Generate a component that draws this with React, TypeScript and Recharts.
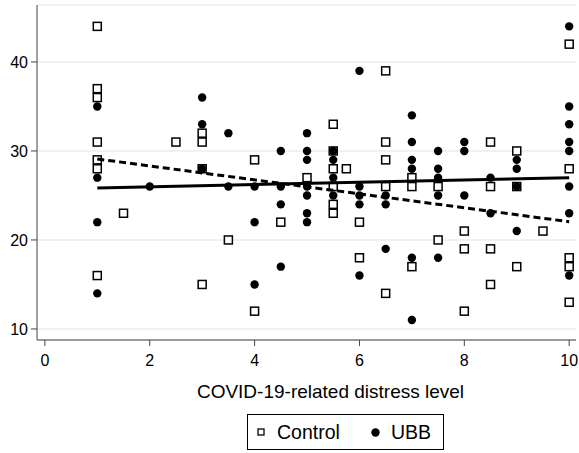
import { ComposedChart, Scatter, XAxis, YAxis, CartesianGrid, Legend } from 'recharts'

const X_TICKS = [0, 2, 4, 6, 8, 10]
const Y_TICKS = [10, 20, 30, 40]

// Control group (open squares)
const CONTROL_X = [1, 1, 1, 1, 1, 1, 1, 1.5, 2.5, 3, 3, 3, 3, 3.5, 4, 4, 4.5, 5, 5.5, 5.5, 5.5, 5.5, 5.5, 5.5, 5.75, 6, 6, 6.5, 6.5, 6.5, 6.5, 6.5, 7, 7, 7, 7.5, 7.5, 8, 8, 8, 8.5, 8.5, 8.5, 8.5, 9, 9, 9, 9.5, 10, 10, 10, 10, 10]
const CONTROL_Y = [44, 37, 36, 31, 29, 28, 16, 23, 31, 32, 31, 28, 15, 20, 29, 12, 22, 27, 33, 30, 28, 26, 24, 23, 28, 22, 18, 39, 31, 29, 26, 14, 27, 26, 17, 26, 20, 21, 19, 12, 31, 26, 19, 15, 30, 26, 17, 21, 42, 28, 18, 17, 13]

// UBB group (filled circles)
const UBB_X = [1, 1, 1, 1, 2, 3, 3, 3, 3.5, 3.5, 4, 4, 4, 4.5, 4.5, 4.5, 4.5, 5, 5, 5, 5, 5, 5, 5, 5.5, 5.5, 5.5, 5.5, 6, 6, 6, 6, 6, 6.5, 6.5, 6.5, 7, 7, 7, 7, 7, 7, 7.5, 7.5, 7.5, 7.5, 7.5, 8, 8, 8, 8.5, 8.5, 9, 9, 9, 9, 10, 10, 10, 10, 10, 10, 10, 10]
const UBB_Y = [35, 27, 22, 14, 26, 36, 33, 28, 32, 26, 26, 22, 15, 30, 26, 24, 17, 32, 30, 29, 26, 25, 23, 22, 30, 29, 27, 25, 39, 26, 25, 24, 16, 25, 24, 19, 34, 31, 29, 28, 18, 11, 30, 28, 27, 25, 18, 31, 30, 25, 27, 23, 29, 28, 26, 21, 44, 35, 33, 31, 30, 26, 23, 16]

// fitted lines, endpoints at x = 1 and x = 10
const FIT_X = [1, 10]
const CONTROL_FIT = [29.1, 22.05]
const UBB_FIT = [25.85, 27.0]

const FONT = 'Arial, "Liberation Sans", sans-serif'

const toPoints = (xs: number[], ys: number[]) => xs.map((x, i) => ({ x, y: ys[i] }))

const controlData = toPoints(CONTROL_X, CONTROL_Y)
const ubbData = toPoints(UBB_X, UBB_Y)
const controlFit = toPoints(FIT_X, CONTROL_FIT)
const ubbFit = toPoints(FIT_X, UBB_FIT)

const SquareDot = ({ cx, cy }: any) => (
	<rect x={cx - 4} y={cy - 4} width={8} height={8} fill="#fff" stroke="#000" strokeWidth={1.5} />
)

const CircleDot = ({ cx, cy }: any) => <circle cx={cx} cy={cy} r={4.2} fill="#000" />

const NoDot = () => <g />

// legend box: open square "Control", filled dot "UBB"
const renderLegend = () => (
	<div style={{ position: 'relative', height: 40 }}>
		<div
			style={{
				position: 'absolute',
				left: 247,
				top: 1,
				width: 195,
				height: 34,
				border: '1px solid #000',
				fontFamily: FONT,
				fontSize: 19.5,
				lineHeight: '22px',
				color: '#000',
			}}
		>
			<svg width={8} height={8} style={{ position: 'absolute', left: 9, top: 13 }}>
				<rect x={1} y={1} width={6} height={6} fill="#fff" stroke="#000" strokeWidth={1.3} />
			</svg>
			<span style={{ position: 'absolute', left: 29, top: 6 }}>Control</span>
			<svg width={9} height={9} style={{ position: 'absolute', left: 123, top: 12.5 }}>
				<circle cx={4.5} cy={4.5} r={4.2} fill="#000" />
			</svg>
			<span style={{ position: 'absolute', left: 143, top: 6 }}>UBB</span>
		</div>
	</div>
)

export default function App() {
	return (
		<div style={{ position: 'absolute', left: 0, top: 0, width: 579, height: 453, background: '#fff' }}>
			<ComposedChart width={579} height={453} margin={{ top: 5, right: 3, bottom: 0, left: 0 }}>
				<CartesianGrid vertical={false} stroke="#e6eef2" strokeWidth={1.5} />
				<XAxis
					type="number"
					dataKey="x"
					domain={[-0.15, 10.13]}
					ticks={X_TICKS}
					allowDataOverflow
					height={73}
					tickSize={6}
					tickMargin={9}
					stroke="#444"
					tick={{ fill: '#000', fontSize: 16, fontFamily: FONT }}
					label={{
						value: 'COVID-19-related distress level',
						position: 'insideBottom',
						offset: 15,
						dx: 24,
						fill: '#000',
						fontSize: 19,
						fontFamily: FONT,
					}}
				/>
				<YAxis
					type="number"
					dataKey="y"
					domain={[8.76, 46.4]}
					ticks={Y_TICKS}
					allowDataOverflow
					width={37}
					tickSize={6}
					tickMargin={3}
					stroke="#444"
					tick={{ fill: '#000', fontSize: 16, fontFamily: FONT }}
				/>
				<Legend verticalAlign="bottom" height={40} content={renderLegend} />
				<Scatter name="Control" data={controlData} shape={SquareDot} isAnimationActive={false} />
				<Scatter name="UBB" data={ubbData} shape={CircleDot} isAnimationActive={false} />
				<Scatter
					data={ubbFit}
					shape={NoDot}
					line={{ stroke: '#000', strokeWidth: 3 }}
					legendType="none"
					isAnimationActive={false}
				/>
				<Scatter
					data={controlFit}
					shape={NoDot}
					line={{ stroke: '#000', strokeWidth: 3, strokeDasharray: '7 4' }}
					legendType="none"
					isAnimationActive={false}
				/>
			</ComposedChart>
		</div>
	)
}
